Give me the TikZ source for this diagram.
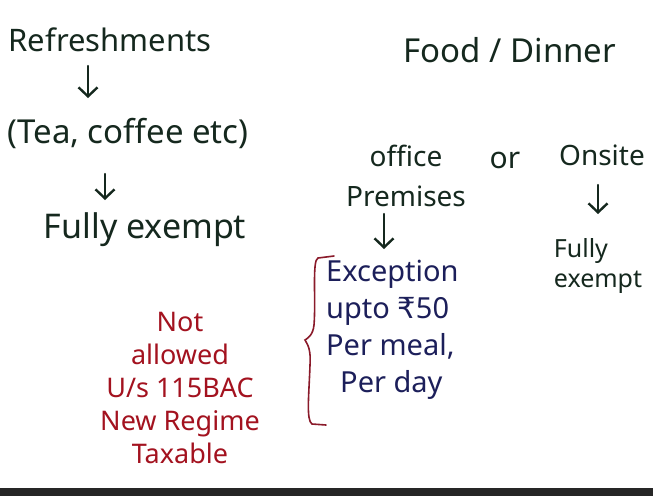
\documentclass[tikz,border=0pt]{standalone}
\usepackage{fontspec}
\setmainfont{Noto Sans}
\usetikzlibrary{arrows.meta}
\definecolor{ink}{HTML}{15281E}
\definecolor{redink}{HTML}{A3121F}
\definecolor{blueink}{HTML}{1C1F5A}
\definecolor{braceink}{HTML}{8A1A2A}
\tikzset{
  note/.style={text=ink, inner sep=0pt, font=\fontsize{32}{36}\selectfont, align=center},
  rednote/.style={text=redink, inner sep=0pt, font=\fontsize{27}{33}\selectfont, align=center},
  bluenote/.style={text=blueink, inner sep=0pt, font=\fontsize{29}{37}\selectfont, align=left},
  arr/.style={draw=ink, line width=2.4pt, line cap=round, -{Straight Barb[length=9pt,width=19pt,line width=2.4pt]}},
}
\begin{document}
\begin{tikzpicture}[x=1pt,y=-1pt]
\useasboundingbox (0,0) rectangle (653,496);
\fill[white] (0,0) rectangle (653,496);
\fill[black!85] (0,488) rectangle (653,496);

% left column: refreshments
\node[note, font=\fontsize{31}{36}\selectfont] (ref) at (110,40) {Refreshments};
\node[note, font=\fontsize{33}{36}\selectfont] (tea) at (128,133) {(Tea, coffee etc)};
\node[note, font=\fontsize{34}{36}\selectfont] (fe1) at (145,230) {Fully exempt};
\coordinate (a1) at (88,0);
\coordinate (a2) at (105,0);
\draw[arr] (a1 |- 0,66) -- (a1 |- 0,98);
\draw[arr] (a2 |- 0,174) -- (a2 |- 0,200);

% right column: food
\node[note, font=\fontsize{33}{36}\selectfont] (food) at (510,50) {Food / Dinner};
\node[note, font=\fontsize{28}{40}\selectfont] (office) at (406,176) {office\\Premises};
\node[note, font=\fontsize{30}{36}\selectfont] (or) at (505,160) {or};
\node[note, font=\fontsize{28}{36}\selectfont] (onsite) at (602,155) {Onsite};
\node[note, font=\fontsize{25}{30}\selectfont, align=left] (fe2) at (598,266) {Fully\\exempt};
\coordinate (a3) at (384,0);
\coordinate (a4) at (598,0);
\draw[arr] (a3 |- 0,214) -- (a3 |- 0,249);
\draw[arr] (a4 |- 0,185) -- (a4 |- 0,214);

% meal limit with brace
\node[bluenote, anchor=north west] (limit) at (326,260) {Exception\\upto {\fontspec{DejaVu Sans}₹}50\\Per meal,\\\hspace*{14pt}Per day};
\draw[braceink, line width=1.6pt, line cap=round]
  (334,256) -- (318,258)
  .. controls (312,260) and (316,300) .. (314,325)
  .. controls (313,335) and (308,338) .. (305,340)
  .. controls (308,345) and (311,350) .. (310,365)
  .. controls (309,395) and (306,420) .. (312,424)
  -- (326,425);

% new regime note
\node[rednote] (regime) at (180,388) {Not\\allowed\\U/s 115BAC\\New Regime\\Taxable};
\end{tikzpicture}
\end{document}
